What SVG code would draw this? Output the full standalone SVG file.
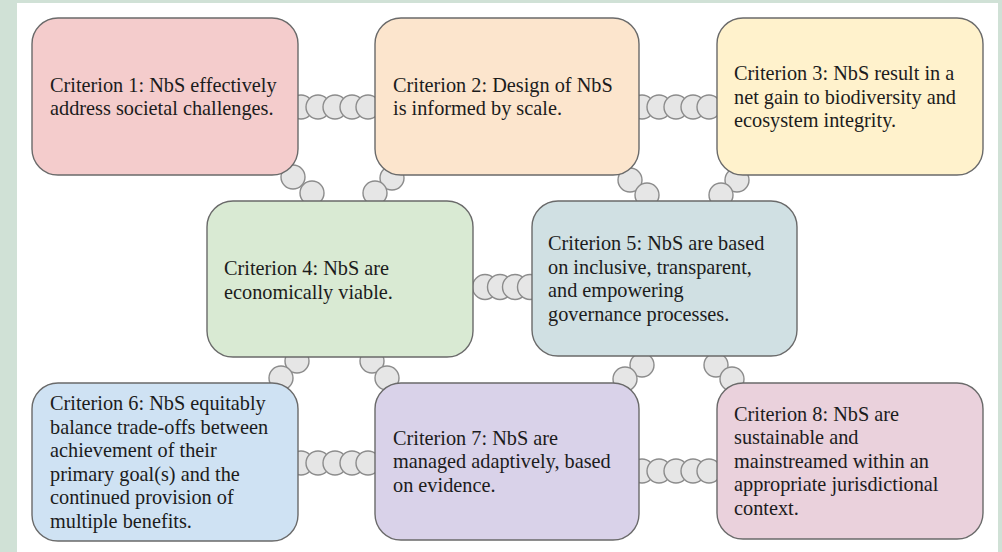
<svg xmlns="http://www.w3.org/2000/svg" width="1002" height="552" viewBox="0 0 1002 552">
<style>
.box{stroke:#6a6a6a;stroke-width:1.4}
.lnk{fill:#e6e6e6;stroke:#8c8c8c;stroke-width:1.4}
.t{font-family:"Liberation Serif","Times New Roman",Tinos,serif;font-size:20.3px;fill:#1c1c1c}
</style>
<rect x="0" y="0" width="1002" height="552" fill="#d0e1d6"/>
<rect x="17" y="3" width="981" height="549" fill="#ffffff"/>
<g id="connectors">
  <g id="chain-1-2"><circle class="lnk" cx="301" cy="107" r="12"/><circle class="lnk" cx="318" cy="107" r="12"/><circle class="lnk" cx="335" cy="107" r="12"/><circle class="lnk" cx="352" cy="107" r="12"/><circle class="lnk" cx="368" cy="107" r="12"/></g>
  <g id="chain-2-3"><circle class="lnk" cx="642" cy="107" r="12"/><circle class="lnk" cx="659" cy="107" r="12"/><circle class="lnk" cx="676" cy="107" r="12"/><circle class="lnk" cx="693" cy="107" r="12"/><circle class="lnk" cx="709" cy="107" r="12"/></g>
  <g id="chain-4-5"><circle class="lnk" cx="485" cy="287" r="12.5"/><circle class="lnk" cx="500" cy="287" r="12.5"/><circle class="lnk" cx="515" cy="287" r="12.5"/><circle class="lnk" cx="530" cy="287" r="12.5"/></g>
  <g id="chain-6-7"><circle class="lnk" cx="301" cy="463" r="12"/><circle class="lnk" cx="318" cy="463" r="12"/><circle class="lnk" cx="335" cy="463" r="12"/><circle class="lnk" cx="352" cy="463" r="12"/><circle class="lnk" cx="368" cy="463" r="12"/></g>
  <g id="chain-7-8"><circle class="lnk" cx="642" cy="471" r="12"/><circle class="lnk" cx="659" cy="471" r="12"/><circle class="lnk" cx="676" cy="471" r="12"/><circle class="lnk" cx="693" cy="471" r="12"/><circle class="lnk" cx="709" cy="471" r="12"/></g>
  <g id="chain-1-4"><circle class="lnk" cx="293" cy="177" r="12"/><circle class="lnk" cx="312" cy="193" r="12"/></g>
  <g id="chain-2-4"><circle class="lnk" cx="392" cy="178" r="12"/><circle class="lnk" cx="375" cy="193" r="12"/></g>
  <g id="chain-2-5"><circle class="lnk" cx="630" cy="180" r="12"/><circle class="lnk" cx="647" cy="195" r="12"/></g>
  <g id="chain-3-5"><circle class="lnk" cx="737" cy="180" r="12"/><circle class="lnk" cx="721" cy="195" r="12"/></g>
  <g id="chain-4-6"><circle class="lnk" cx="297" cy="361" r="12"/><circle class="lnk" cx="281" cy="378" r="12"/></g>
  <g id="chain-4-7"><circle class="lnk" cx="372" cy="361" r="12"/><circle class="lnk" cx="387" cy="378" r="12"/></g>
  <g id="chain-5-7"><circle class="lnk" cx="642" cy="365" r="12"/><circle class="lnk" cx="625" cy="379" r="12"/></g>
  <g id="chain-5-8"><circle class="lnk" cx="716" cy="365" r="12"/><circle class="lnk" cx="732" cy="379" r="12"/></g>
</g>
<g id="node1"><rect class="box" x="32" y="18" width="266" height="157" rx="26" fill="#f4cccc"/>
  <text class="t" x="50" y="91.5">Criterion 1: NbS effectively</text><text class="t" x="50" y="115">address societal challenges.</text></g>
<g id="node2"><rect class="box" x="375" y="18" width="264" height="157" rx="26" fill="#fce5cd"/>
  <text class="t" x="393" y="91.5">Criterion 2: Design of NbS</text><text class="t" x="393" y="115">is informed by scale.</text></g>
<g id="node3"><rect class="box" x="717" y="18" width="266" height="157" rx="26" fill="#fff2cc"/>
  <text class="t" x="734" y="80">Criterion 3: NbS result in a</text><text class="t" x="734" y="103.5">net gain to biodiversity and</text><text class="t" x="734" y="127">ecosystem integrity.</text></g>
<g id="node4"><rect class="box" x="207" y="201" width="266" height="156" rx="26" fill="#d9ead3"/>
  <text class="t" x="224" y="275">Criterion 4: NbS are</text><text class="t" x="224" y="298.5">economically viable.</text></g>
<g id="node5"><rect class="box" x="532" y="201" width="265" height="155" rx="26" fill="#d0e0e3"/>
  <text class="t" x="548" y="250">Criterion 5: NbS are based</text><text class="t" x="548" y="273.5">on inclusive, transparent,</text><text class="t" x="548" y="297">and empowering</text><text class="t" x="548" y="320.5">governance processes.</text></g>
<g id="node6"><rect class="box" x="32" y="383" width="266" height="158" rx="26" fill="#cfe2f3"/>
  <text class="t" x="50" y="410">Criterion 6: NbS equitably</text><text class="t" x="50" y="433.5">balance trade-offs between</text><text class="t" x="50" y="457">achievement of their</text><text class="t" x="50" y="480.5">primary goal(s) and the</text><text class="t" x="50" y="504">continued provision of</text><text class="t" x="50" y="527.5">multiple benefits.</text></g>
<g id="node7"><rect class="box" x="375" y="383" width="264" height="157" rx="26" fill="#d9d2e9"/>
  <text class="t" x="393" y="444.5">Criterion 7: NbS are</text><text class="t" x="393" y="468">managed adaptively, based</text><text class="t" x="393" y="491.5">on evidence.</text></g>
<g id="node8"><rect class="box" x="717" y="383" width="266" height="156" rx="26" fill="#ead1dc"/>
  <text class="t" x="734" y="420.5">Criterion 8: NbS are</text><text class="t" x="734" y="444">sustainable and</text><text class="t" x="734" y="467.5">mainstreamed within an</text><text class="t" x="734" y="491">appropriate jurisdictional</text><text class="t" x="734" y="514.5">context.</text></g>
</svg>
